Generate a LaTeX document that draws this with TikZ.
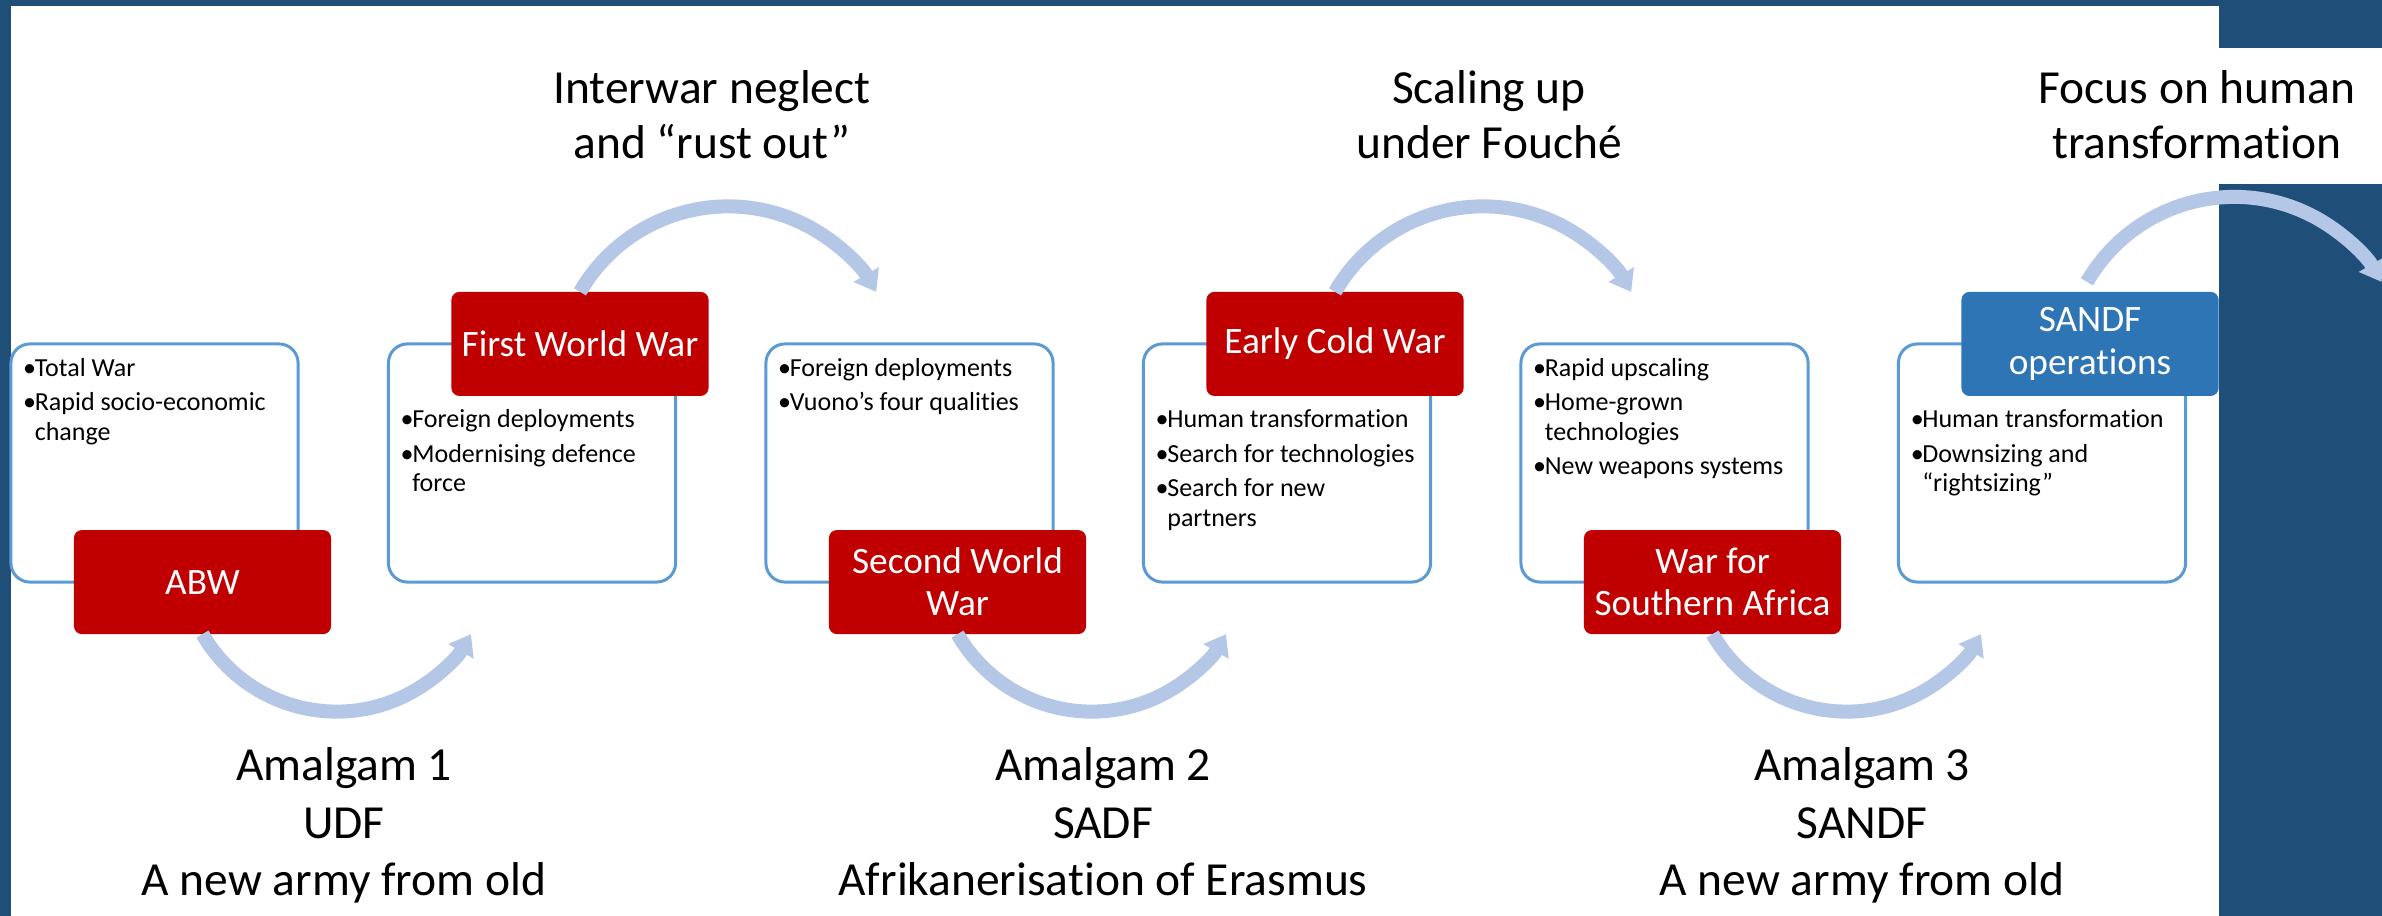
\documentclass[tikz,border=0pt]{standalone}
\usepackage{fontspec}
\setmainfont{Carlito}[Ligatures={NoCommon}]
\usetikzlibrary{arrows.meta,calc}

\definecolor{slideblue}{HTML}{1F4E79}
\definecolor{eventred}{HTML}{C00000}
\definecolor{eventblue}{HTML}{2E75B6}
\definecolor{boxline}{HTML}{5B9BD5}
\definecolor{arcblue}{HTML}{B4C7E7}

\newcommand{\bul}{\makebox[3.3pt][l]{\textbullet}}
\newcommand{\cont}{\hspace*{3.3pt}}
\newcommand{\up}[1]{\rule{0pt}{#1}}

\begin{document}
\begin{tikzpicture}[x=0.01cm,y=-0.01cm,
    infobox/.style={draw=boxline,line width=0.03cm,fill=white,rounded corners=0.19cm,
      minimum width=2.87cm,minimum height=2.38cm,inner sep=0,outer sep=0},
    event/.style={fill=eventred,text=white,rounded corners=0.08cm,align=center,
      minimum width=2.57cm,minimum height=1.04cm,inner sep=0,outer sep=0,
      font=\fontsize{10.6}{12}\selectfont},
    bullets/.style={anchor=north west,inner sep=0,align=left,
      font=\fontsize{7.4}{8.4}\selectfont},
    trend/.style={anchor=north,inner sep=0,align=center,
      font=\fontsize{13.5}{15.7}\selectfont},
    amalgam/.style={anchor=north,inner sep=0,align=center,
      font=\fontsize{13.5}{16.3}\selectfont},
    swing/.style={draw=arcblue,line width=0.14cm,
      -{Triangle[width=0.28cm,length=0.2cm]}}]

  % slide frame
  \useasboundingbox (0,0) rectangle (2382,916);
  \fill[slideblue] (0,0) rectangle (2382,916);
  \fill[white] (10.5,6) rectangle (2219,916);
  \fill[white] (2219,48) rectangle (2382,184);

  \def\pitch{377.5}
  \def\bx{154.5}
  \def\by{463}

  \node[infobox] (ib1) at (\bx,\by) {};
  \node[infobox] (ib2) at (\bx+\pitch,\by) {};
  \node[infobox] (ib3) at (\bx+2*\pitch,\by) {};
  \node[infobox] (ib4) at (\bx+3*\pitch,\by) {};
  \node[infobox] (ib5) at (\bx+4*\pitch,\by) {};
  \node[infobox] (ib6) at (\bx+5*\pitch,\by) {};

  \node[event] (abw) at ($(ib1.south)+(48,0)$) {ABW};
  \node[event] (fww) at ($(ib2.north)+(48,0)$) {First World War};
  \node[event] (sww) at ($(ib3.south)+(48,0)$) {Second World\\War};
  \node[event] (ecw) at ($(ib4.north)+(48,0)$) {Early Cold War};
  \node[event] (wsa) at ($(ib5.south)+(48,0)$) {War for\\Southern Africa};
  \node[event,fill=eventblue] (ops) at ($(ib6.north)+(48,0)$) {SANDF\\operations};

  % arcs between the phases
  \draw[swing] (abw.south) arc[start angle=150,end angle=30,radius=155];
  \draw[swing] (sww.south) arc[start angle=150,end angle=30,radius=155];
  \draw[swing] (wsa.south) arc[start angle=150,end angle=30,radius=155];
  \draw[swing] (fww.north) arc[start angle=-150,end angle=-30,radius=171];
  \draw[swing] (ecw.north) arc[start angle=-150,end angle=-30,radius=171];
  \draw[swing] ($(ops.north)+(-3,-10)$) arc[start angle=-150,end angle=-30,radius=170];

  \node[bullets] (tx1) at ($(ib1.north west)+(11.6,10.4)$)
    {\up{6pt}\bul Total War\\[1.4pt]\bul Rapid socio-economic\\\cont change};
  \node[bullets] (tx2) at ($(ib2.north west)+(11.6,61.9)$)
    {\up{6pt}\bul Foreign deployments\\[1.4pt]\bul Modernising defence\\\cont force};
  \node[bullets] (tx3) at ($(ib3.north west)+(11.6,10.4)$)
    {\up{6pt}\bul Foreign deployments\\[1.4pt]\bul Vuono’s four qualities};
  \node[bullets] (tx4) at ($(ib4.north west)+(11.6,61.9)$)
    {\up{6pt}\bul Human transformation\\[1.4pt]\bul Search for technologies\\[1.4pt]%
     \bul Search for new\\\cont partners};
  \node[bullets] (tx5) at ($(ib5.north west)+(11.6,10.4)$)
    {\up{6pt}\bul Rapid upscaling\\[1.4pt]\bul Home-grown\\\cont technologies\\[1.4pt]%
     \bul New weapons systems};
  \node[bullets] (tx6) at ($(ib6.north west)+(11.6,61.9)$)
    {\up{6pt}\bul Human transformation\\[1.4pt]\bul Downsizing and\\\cont “rightsizing”};

  \node[trend] (neglect) at (712,60.8) {\up{12pt}Interwar neglect\\and “rust out”};
  \node[trend] (scaling) at (1489,60.8) {\up{12pt}Scaling up\\under Fouché};
  \node[trend] (focus)   at (2197,60.8) {\up{12pt}Focus on human\\transformation};

  \node[amalgam] (amal1) at (344,737.8)  {\up{12pt}Amalgam 1\\UDF\\A new army from old};
  \node[amalgam] (amal2) at (1103,737.8) {\up{12pt}Amalgam 2\\SADF\\Afrikanerisation of Erasmus};
  \node[amalgam] (amal3) at (1862,737.8) {\up{12pt}Amalgam 3\\SANDF\\A new army from old};

\end{tikzpicture}
\end{document}
